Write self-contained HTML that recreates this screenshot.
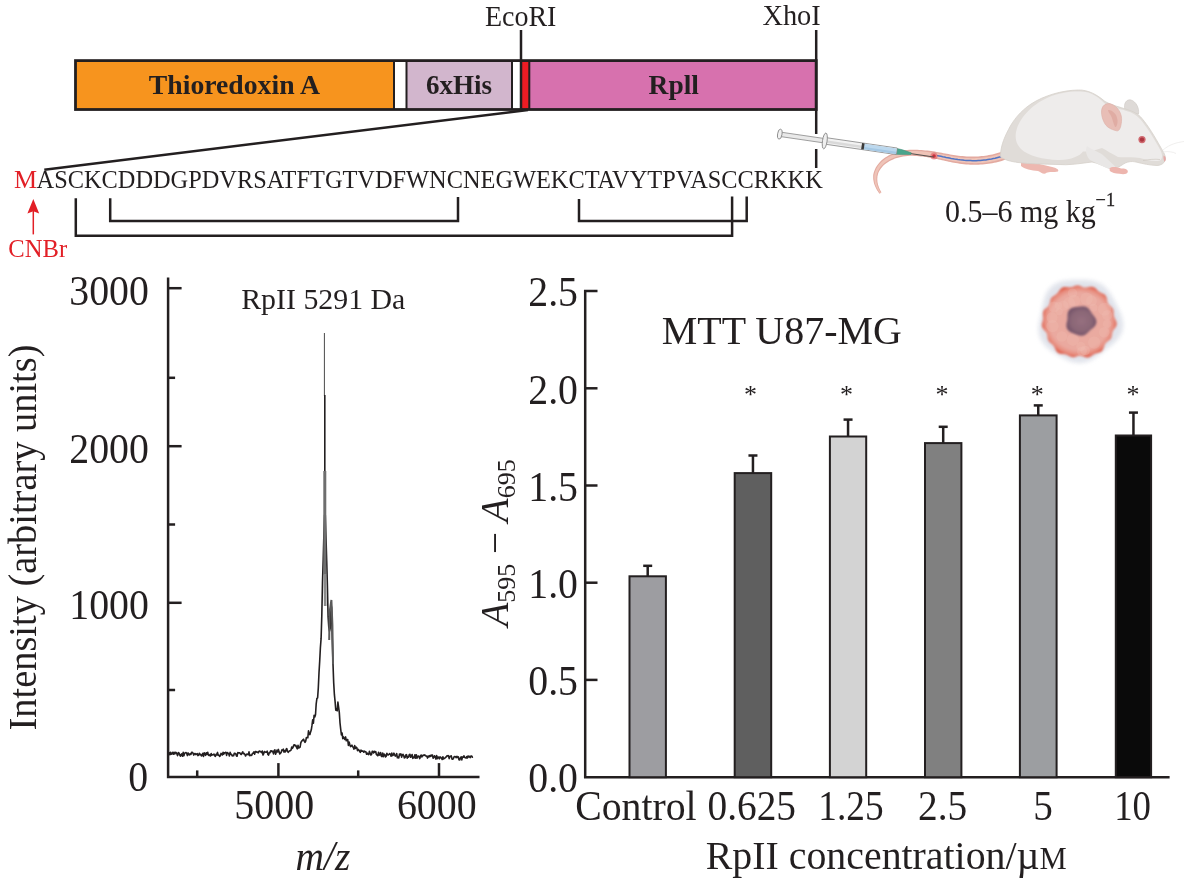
<!DOCTYPE html>
<html><head><meta charset="utf-8"><title>Figure</title>
<style>
html,body{margin:0;padding:0;background:#fff;}
body{width:1193px;height:886px;overflow:hidden;font-family:"Liberation Serif",serif;}
svg{display:block;will-change:transform;}
</style></head><body>
<svg width="1193" height="886" viewBox="0 0 1193 886">
<rect width="1193" height="886" fill="#ffffff"/>
<!--ART-->
<rect x="75.5" y="60.5" width="318.5" height="49" fill="#f7941e"/>
<rect x="406.5" y="60.5" width="105.5" height="49" fill="#d2b6cd"/>
<rect x="521" y="60.5" width="8.5" height="49" fill="#ed1c24"/>
<rect x="529" y="60.5" width="287" height="49" fill="#d771ae"/>
<g stroke="#231f20" stroke-width="2" fill="none">
<line x1="394" y1="60.5" x2="394" y2="109.5"/>
<line x1="406.5" y1="60.5" x2="406.5" y2="109.5"/>
<line x1="512" y1="60.5" x2="512" y2="109.5"/>
<line x1="529.3" y1="60.5" x2="529.3" y2="109.5"/>
</g>
<rect x="75.5" y="60.6" width="740.7" height="48.9" fill="none" stroke="#231f20" stroke-width="2.8"/>
<g stroke="#231f20" stroke-width="2.5" fill="none">
<line x1="521" y1="30" x2="521" y2="110"/>
<line x1="816.2" y1="30" x2="816.2" y2="134"/>
<line x1="816.2" y1="149" x2="816.2" y2="168"/>
<line x1="528" y1="110" x2="44.3" y2="169.7"/>
</g>
<text x="148.8" y="93.9" font-size="28.2" font-family="Liberation Serif" font-weight="bold" font-style="normal" fill="#231f20" textLength="171.2" lengthAdjust="spacingAndGlyphs">Thioredoxin A</text>
<text x="425.9" y="93.7" font-size="28.2" font-family="Liberation Serif" font-weight="bold" font-style="normal" fill="#231f20" textLength="66" lengthAdjust="spacingAndGlyphs">6xHis</text>
<text x="648.6" y="93.7" font-size="28.2" font-family="Liberation Serif" font-weight="bold" font-style="normal" fill="#231f20" textLength="50.4" lengthAdjust="spacingAndGlyphs">Rpll</text>
<text x="484.9" y="25.9" font-size="29.8" font-family="Liberation Serif" font-weight="normal" font-style="normal" fill="#231f20" textLength="71.5" lengthAdjust="spacingAndGlyphs">EcoRI</text>
<text x="762.4" y="24.9" font-size="29.8" font-family="Liberation Serif" font-weight="normal" font-style="normal" fill="#231f20" textLength="58.4" lengthAdjust="spacingAndGlyphs">XhoI</text>
<text x="13.9" y="187.5" font-size="24.8" font-family="Liberation Serif" font-weight="normal" font-style="normal" fill="#e21f26" textLength="23.1" lengthAdjust="spacingAndGlyphs">M</text>
<text x="36.6" y="187.5" font-size="24.6" font-family="Liberation Serif" font-weight="normal" font-style="normal" fill="#231f20" textLength="786.2" lengthAdjust="spacingAndGlyphs">ASCKCDDDGPDVRSATFTGTVDFWNCNEGWEKCTAVYTPVASCCRKKK</text>
<g stroke="#231f20" stroke-width="2.5" fill="none" stroke-linejoin="miter">
<polyline points="75.8,198.2 75.8,235.8 732.1,235.8 732.1,196.6"/>
<polyline points="110.2,198.2 110.2,221 458,221 458,197"/>
<polyline points="579,199 579,221 746.7,221 746.7,196.5"/>
</g>
<line x1="33.3" y1="234.4" x2="33.3" y2="208" stroke="#e21f26" stroke-width="1.5"/>
<path d="M33.3 198.9 L39.2 213.6 L33.3 211.2 L27.4 213.6 Z" fill="#e21f26"/>
<text x="8.3" y="257" font-size="24.2" font-family="Liberation Serif" font-weight="normal" font-style="normal" fill="#e21f26" textLength="58.8" lengthAdjust="spacingAndGlyphs">CNBr</text>
<g stroke="#231f20" stroke-width="2.5" fill="none">
<polyline points="168.1,277.4 168.1,777.1 479.5,777.1"/>
<line x1="168.1" y1="288.2" x2="181.6" y2="288.2"/>
<line x1="168.1" y1="377.8" x2="175.1" y2="377.8"/>
<line x1="168.1" y1="446.2" x2="181.6" y2="446.2"/>
<line x1="168.1" y1="524.5" x2="175.1" y2="524.5"/>
<line x1="168.1" y1="602.8" x2="181.6" y2="602.8"/>
<line x1="168.1" y1="690" x2="175.1" y2="690"/>
<line x1="197.2" y1="777.1" x2="197.2" y2="770.4"/>
<line x1="278.4" y1="777.1" x2="278.4" y2="763.1"/>
<line x1="358.2" y1="777.1" x2="358.2" y2="770.4"/>
<line x1="439" y1="777.1" x2="439" y2="763.1"/>
</g>
<text x="69.3" y="304.9" font-size="42.5" font-family="Liberation Serif" font-weight="normal" font-style="normal" fill="#231f20" textLength="79.6" lengthAdjust="spacingAndGlyphs">3000</text>
<text x="69.3" y="462.9" font-size="42.5" font-family="Liberation Serif" font-weight="normal" font-style="normal" fill="#231f20" textLength="79.6" lengthAdjust="spacingAndGlyphs">2000</text>
<text x="69.3" y="619.4" font-size="42.5" font-family="Liberation Serif" font-weight="normal" font-style="normal" fill="#231f20" textLength="79.6" lengthAdjust="spacingAndGlyphs">1000</text>
<text x="128.2" y="791" font-size="42.5" font-family="Liberation Serif" font-weight="normal" font-style="normal" fill="#231f20" textLength="19.9" lengthAdjust="spacingAndGlyphs">0</text>
<text x="234.3" y="819.2" font-size="42.5" font-family="Liberation Serif" font-weight="normal" font-style="normal" fill="#231f20" textLength="79.8" lengthAdjust="spacingAndGlyphs">5000</text>
<text x="396.9" y="819.2" font-size="42.5" font-family="Liberation Serif" font-weight="normal" font-style="normal" fill="#231f20" textLength="79.8" lengthAdjust="spacingAndGlyphs">6000</text>
<text x="295.6" y="869.6" font-size="42" font-family="Liberation Serif" font-weight="normal" font-style="italic" fill="#231f20" textLength="54.7" lengthAdjust="spacingAndGlyphs">m/z</text>
<text x="241.2" y="308.9" font-size="30.1" font-family="Liberation Serif" font-weight="normal" font-style="normal" fill="#231f20" textLength="164.2" lengthAdjust="spacingAndGlyphs">RpII 5291 Da</text>
<text transform="translate(36.4,730.5) rotate(-90)" font-size="40.5" font-family="Liberation Serif" fill="#231f20" textLength="386" lengthAdjust="spacingAndGlyphs">Intensity (arbitrary units)</text>
<path d="M168.5 753.4 L169.2 752.7 L169.9 754.8 L170.6 752.3 L171.3 754.3 L172.0 753.6 L172.7 752.3 L173.4 754.2 L174.1 752.2 L174.8 753.9 L175.5 752.4 L176.2 752.5 L176.9 753.9 L177.6 755.6 L178.3 752.6 L179.0 753.0 L179.7 754.8 L180.4 756.2 L181.1 754.6 L181.8 753.8 L182.5 756.3 L183.2 752.3 L183.9 755.8 L184.6 753.4 L185.3 752.7 L186.0 752.6 L186.7 753.5 L187.4 755.6 L188.1 752.9 L188.8 754.6 L189.5 754.9 L190.2 753.7 L190.9 754.5 L191.6 752.4 L192.3 752.4 L193.0 753.0 L193.7 755.1 L194.4 754.0 L195.1 753.5 L195.8 754.7 L196.5 754.1 L197.2 753.5 L197.9 755.6 L198.6 755.2 L199.3 753.2 L200.0 754.6 L200.7 754.4 L201.4 755.9 L202.1 755.3 L202.8 753.4 L203.5 756.4 L204.2 752.7 L204.9 754.0 L205.6 755.4 L206.3 752.8 L207.0 754.3 L207.7 752.3 L208.4 755.1 L209.1 755.5 L209.8 754.7 L210.5 756.0 L211.2 753.5 L211.9 755.2 L212.6 754.7 L213.3 754.7 L214.0 754.1 L214.7 755.8 L215.4 756.3 L216.1 754.2 L216.8 755.0 L217.5 752.4 L218.2 755.2 L218.9 755.0 L219.6 756.5 L220.3 755.7 L221.0 753.4 L221.7 753.8 L222.4 755.0 L223.1 752.2 L223.8 754.1 L224.5 752.8 L225.2 752.6 L225.9 752.3 L226.6 755.4 L227.3 752.6 L228.0 753.1 L228.7 753.8 L229.4 755.9 L230.1 752.4 L230.8 754.0 L231.5 754.4 L232.2 755.9 L232.9 755.6 L233.6 755.8 L234.3 753.2 L235.0 753.8 L235.7 753.5 L236.4 755.9 L237.1 756.2 L237.8 752.6 L238.5 752.7 L239.2 752.9 L239.9 752.9 L240.6 754.0 L241.3 754.5 L242.0 753.0 L242.7 751.8 L243.4 753.7 L244.1 753.4 L244.8 754.3 L245.5 756.0 L246.2 754.8 L246.9 754.0 L247.6 754.4 L248.3 754.7 L249.0 751.9 L249.7 755.6 L250.4 755.1 L251.1 755.5 L251.8 755.1 L252.5 753.3 L253.2 753.3 L253.9 751.9 L254.6 754.3 L255.3 751.6 L256.0 751.6 L256.7 752.2 L257.4 752.0 L258.1 752.8 L258.8 751.4 L259.5 751.1 L260.2 751.8 L260.9 751.5 L261.6 752.7 L262.3 751.1 L263.0 755.0 L263.7 753.7 L264.4 751.5 L265.1 751.9 L265.8 752.3 L266.5 752.3 L267.2 751.2 L267.9 754.5 L268.6 755.1 L269.3 752.6 L270.0 752.6 L270.7 750.7 L271.4 750.7 L272.1 751.7 L272.8 751.3 L273.5 753.9 L274.2 750.6 L274.9 749.9 L275.6 754.3 L276.3 752.1 L277.0 750.2 L277.7 752.0 L278.4 749.4 L279.1 751.7 L279.8 753.9 L280.5 753.2 L281.2 752.2 L281.9 749.9 L282.6 750.3 L283.3 749.2 L284.0 752.1 L284.7 750.7 L285.4 751.8 L286.1 749.4 L286.8 748.6 L287.5 751.5 L288.2 752.3 L288.9 751.4 L289.6 750.9 L290.3 750.8 L291.0 750.1 L291.7 747.1 L292.4 748.4 L293.1 747.2 L293.8 745.1 L294.5 744.8 L295.2 745.9 L295.9 745.4 L296.6 747.6 L297.3 748.8 L298.0 745.3 L298.7 747.9 L299.4 747.7 L300.1 747.1 L300.8 742.9 L301.5 741.3 L302.2 740.7 L302.9 739.9 L303.6 739.2 L304.3 741.3 L305.0 742.4 L305.7 741.1 L306.4 737.5 L307.1 737.8 L307.8 737.8 L308.5 730.9 L309.2 734.1 L309.9 734.6 L310.6 731.9 L311.3 729.8 L312.0 725.2 L312.7 719.8 L313.4 723.2 L314.1 715.3 L314.8 716.9 L315.5 714.7 L316.2 703.8 L316.9 698.4 L317.6 698.0 L318.3 688.0 L319.0 672.8 L319.7 661.1 L320.4 647.5 L321.1 638.4 L321.8 615.7 L322.5 582.0 L323.2 559.8 L323.9 534.1 L324.6 515.0 L325.3 515.3 L326.0 537.9 L326.7 560.8 L327.4 585.7 L328.1 616.9 L328.8 627.2 L329.5 631.0 L330.2 628.4 L330.9 603.9 L331.6 607.6 L332.3 640.5 L333.0 664.0 L333.7 682.9 L334.4 694.7 L335.1 701.6 L335.8 710.3 L336.5 709.4 L337.2 710.8 L337.9 702.0 L338.6 707.1 L339.3 712.4 L340.0 722.8 L340.7 729.1 L341.4 734.9 L342.1 733.1 L342.8 738.7 L343.5 736.9 L344.2 738.4 L344.9 739.5 L345.6 736.9 L346.3 740.8 L347.0 739.9 L347.7 739.5 L348.4 745.4 L349.1 742.0 L349.8 744.5 L350.5 746.6 L351.2 746.1 L351.9 745.1 L352.6 746.7 L353.3 747.4 L354.0 749.1 L354.7 745.6 L355.4 748.5 L356.1 747.1 L356.8 747.6 L357.5 750.6 L358.2 749.4 L358.9 750.0 L359.6 751.3 L360.3 752.4 L361.0 750.1 L361.7 751.2 L362.4 750.9 L363.1 751.1 L363.8 752.2 L364.5 751.2 L365.2 751.8 L365.9 751.7 L366.6 754.2 L367.3 753.1 L368.0 754.1 L368.7 754.6 L369.4 751.3 L370.1 753.0 L370.8 755.0 L371.5 754.6 L372.2 751.3 L372.9 751.3 L373.6 753.0 L374.3 751.3 L375.0 752.2 L375.7 751.5 L376.4 754.5 L377.1 755.1 L377.8 755.8 L378.5 752.3 L379.2 755.1 L379.9 754.9 L380.6 752.5 L381.3 756.1 L382.0 756.6 L382.7 753.1 L383.4 756.6 L384.1 754.1 L384.8 754.6 L385.5 757.0 L386.2 756.3 L386.9 753.3 L387.6 754.6 L388.3 755.0 L389.0 754.3 L389.7 753.7 L390.4 754.3 L391.1 756.2 L391.8 753.1 L392.5 755.6 L393.2 755.1 L393.9 753.2 L394.6 754.7 L395.3 756.1 L396.0 755.6 L396.7 753.6 L397.4 757.8 L398.1 757.0 L398.8 757.9 L399.5 754.0 L400.2 754.8 L400.9 753.8 L401.6 757.2 L402.3 754.9 L403.0 754.3 L403.7 755.7 L404.4 757.9 L405.1 757.5 L405.8 755.0 L406.5 754.6 L407.2 758.1 L407.9 756.5 L408.6 757.1 L409.3 754.5 L410.0 754.4 L410.7 757.2 L411.4 756.1 L412.1 754.5 L412.8 758.4 L413.5 757.1 L414.2 757.8 L414.9 754.7 L415.6 758.1 L416.3 754.7 L417.0 758.2 L417.7 756.4 L418.4 756.0 L419.1 756.9 L419.8 758.6 L420.5 755.7 L421.2 755.1 L421.9 756.9 L422.6 755.7 L423.3 755.1 L424.0 755.4 L424.7 754.9 L425.4 755.6 L426.1 756.1 L426.8 756.1 L427.5 758.1 L428.2 756.1 L428.9 757.0 L429.6 755.6 L430.3 756.4 L431.0 755.0 L431.7 756.0 L432.4 755.0 L433.1 758.2 L433.8 757.4 L434.5 755.8 L435.2 757.1 L435.9 759.1 L436.6 755.5 L437.3 758.7 L438.0 757.0 L438.7 757.3 L439.4 758.8 L440.1 756.9 L440.8 757.4 L441.5 758.2 L442.2 759.5 L442.9 756.7 L443.6 758.9 L444.3 758.4 L445.0 758.1 L445.7 757.1 L446.4 756.9 L447.1 755.6 L447.8 756.0 L448.5 755.7 L449.2 758.6 L449.9 756.5 L450.6 756.2 L451.3 755.8 L452.0 759.1 L452.7 759.3 L453.4 758.4 L454.1 756.8 L454.8 756.6 L455.5 756.8 L456.2 757.6 L456.9 756.3 L457.6 757.5 L458.3 756.8 L459.0 759.8 L459.7 759.9 L460.4 758.0 L461.1 756.8 L461.8 759.9 L462.5 757.1 L463.2 757.3 L463.9 755.8 L464.6 757.4 L465.3 757.8 L466.0 758.0 L466.7 756.7 L467.4 758.0 L468.1 755.9 L468.8 757.0 L469.5 756.3 L470.2 757.6 L470.9 756.1 L471.6 756.0 L472.3 757.2 L473.0 757.0" fill="none" stroke="#231f20" stroke-width="1.6" stroke-linejoin="round"/>
<line x1="324.4" y1="333" x2="324.4" y2="396" stroke="#4a4a4a" stroke-width="1"/>
<line x1="324.8" y1="395" x2="324.8" y2="472" stroke="#231f20" stroke-width="1.6"/>
<line x1="324.8" y1="471" x2="324.8" y2="575" stroke="#6e6e6e" stroke-width="3"/>
<line x1="324.9" y1="574" x2="325.2" y2="606" stroke="#8a8a8a" stroke-width="2.6"/>
<path d="M329.2 640 L329.6 612 L331.4 600 L332.4 625 L333 664" fill="none" stroke="#5a5a5a" stroke-width="2"/>
<g stroke="#231f20" stroke-width="2.5" fill="none">
<polyline points="597.5,291.1 585.2,291.1 585.2,777.2 1169.6,777.2"/>
<line x1="585.2" y1="388.3" x2="597.5" y2="388.3"/>
<line x1="585.2" y1="485.5" x2="597.5" y2="485.5"/>
<line x1="585.2" y1="582.7" x2="597.5" y2="582.7"/>
<line x1="585.2" y1="679.9" x2="597.5" y2="679.9"/>
</g>
<line x1="647.7" y1="576.3" x2="647.7" y2="565.8" stroke="#231f20" stroke-width="2.5"/>
<line x1="643.2" y1="565.8" x2="652.2" y2="565.8" stroke="#231f20" stroke-width="2.5"/>
<rect x="629.5" y="576.3" width="36.39999999999998" height="200.9000000000001" fill="#9d9da1" stroke="#231f20" stroke-width="2"/>
<line x1="752.95" y1="473.1" x2="752.95" y2="455.5" stroke="#231f20" stroke-width="2.5"/>
<line x1="748.45" y1="455.5" x2="757.45" y2="455.5" stroke="#231f20" stroke-width="2.5"/>
<rect x="734.7" y="473.1" width="36.5" height="304.1" fill="#5f5f5f" stroke="#231f20" stroke-width="2"/>
<line x1="848.05" y1="436.5" x2="848.05" y2="419.6" stroke="#231f20" stroke-width="2.5"/>
<line x1="843.55" y1="419.6" x2="852.55" y2="419.6" stroke="#231f20" stroke-width="2.5"/>
<rect x="829.9" y="436.5" width="36.30000000000007" height="340.70000000000005" fill="#d3d3d3" stroke="#231f20" stroke-width="2"/>
<line x1="943.2" y1="443.1" x2="943.2" y2="426.8" stroke="#231f20" stroke-width="2.5"/>
<line x1="938.7" y1="426.8" x2="947.7" y2="426.8" stroke="#231f20" stroke-width="2.5"/>
<rect x="925" y="443.1" width="36.39999999999998" height="334.1" fill="#808080" stroke="#231f20" stroke-width="2"/>
<line x1="1038.25" y1="415.4" x2="1038.25" y2="405.4" stroke="#231f20" stroke-width="2.5"/>
<line x1="1033.75" y1="405.4" x2="1042.75" y2="405.4" stroke="#231f20" stroke-width="2.5"/>
<rect x="1019.9" y="415.4" width="36.69999999999993" height="361.80000000000007" fill="#9c9ea1" stroke="#231f20" stroke-width="2"/>
<line x1="1133.4499999999998" y1="435.5" x2="1133.4499999999998" y2="412.6" stroke="#231f20" stroke-width="2.5"/>
<line x1="1128.9499999999998" y1="412.6" x2="1137.9499999999998" y2="412.6" stroke="#231f20" stroke-width="2.5"/>
<rect x="1115.8" y="435.5" width="35.299999999999955" height="341.70000000000005" fill="#0a0a0a" stroke="#231f20" stroke-width="2"/>
<text x="750.6" y="403" font-size="26" font-family="Liberation Serif" fill="#231f20" text-anchor="middle">*</text>
<text x="846.5" y="403" font-size="26" font-family="Liberation Serif" fill="#231f20" text-anchor="middle">*</text>
<text x="942" y="403" font-size="26" font-family="Liberation Serif" fill="#231f20" text-anchor="middle">*</text>
<text x="1037.2" y="403" font-size="26" font-family="Liberation Serif" fill="#231f20" text-anchor="middle">*</text>
<text x="1133.1" y="403" font-size="26" font-family="Liberation Serif" fill="#231f20" text-anchor="middle">*</text>
<text x="528.3" y="306.4" font-size="42.5" font-family="Liberation Serif" font-weight="normal" font-style="normal" fill="#231f20" textLength="49.7" lengthAdjust="spacingAndGlyphs">2.5</text>
<text x="528.3" y="403.59999999999997" font-size="42.5" font-family="Liberation Serif" font-weight="normal" font-style="normal" fill="#231f20" textLength="49.7" lengthAdjust="spacingAndGlyphs">2.0</text>
<text x="528.3" y="500.8" font-size="42.5" font-family="Liberation Serif" font-weight="normal" font-style="normal" fill="#231f20" textLength="49.7" lengthAdjust="spacingAndGlyphs">1.5</text>
<text x="528.3" y="598.0" font-size="42.5" font-family="Liberation Serif" font-weight="normal" font-style="normal" fill="#231f20" textLength="49.7" lengthAdjust="spacingAndGlyphs">1.0</text>
<text x="528.3" y="695.2" font-size="42.5" font-family="Liberation Serif" font-weight="normal" font-style="normal" fill="#231f20" textLength="49.7" lengthAdjust="spacingAndGlyphs">0.5</text>
<text x="528.3" y="791.9000000000001" font-size="42.5" font-family="Liberation Serif" font-weight="normal" font-style="normal" fill="#231f20" textLength="49.7" lengthAdjust="spacingAndGlyphs">0.0</text>
<text x="575.2" y="819.5" font-size="42" font-family="Liberation Serif" font-weight="normal" font-style="normal" fill="#231f20" textLength="121.4" lengthAdjust="spacingAndGlyphs">Control</text>
<text x="707.5" y="819.5" font-size="42.5" font-family="Liberation Serif" font-weight="normal" font-style="normal" fill="#231f20" textLength="88.5" lengthAdjust="spacingAndGlyphs">0.625</text>
<text x="818.3" y="819.5" font-size="42.5" font-family="Liberation Serif" font-weight="normal" font-style="normal" fill="#231f20" textLength="65.3" lengthAdjust="spacingAndGlyphs">1.25</text>
<text x="918" y="819.5" font-size="42.5" font-family="Liberation Serif" font-weight="normal" font-style="normal" fill="#231f20" textLength="49.2" lengthAdjust="spacingAndGlyphs">2.5</text>
<text x="1033.2" y="819.5" font-size="42.5" font-family="Liberation Serif" font-weight="normal" font-style="normal" fill="#231f20" textLength="19.6" lengthAdjust="spacingAndGlyphs">5</text>
<text x="1114.2" y="819.5" font-size="42.5" font-family="Liberation Serif" font-weight="normal" font-style="normal" fill="#231f20" textLength="36.8" lengthAdjust="spacingAndGlyphs">10</text>
<text x="705.8" y="869.2" font-size="40.3" font-family="Liberation Serif" fill="#231f20" textLength="361" lengthAdjust="spacingAndGlyphs">RpII concentration/µ<tspan font-size="31">M</tspan></text>
<text x="661.8" y="343.6" font-size="40.6" font-family="Liberation Serif" font-weight="normal" font-style="normal" fill="#231f20" textLength="240" lengthAdjust="spacingAndGlyphs">MTT U87-MG</text>
<text transform="translate(507.5,626.5) rotate(-90)" font-size="39" font-family="Liberation Serif" fill="#231f20"><tspan font-style="italic">A</tspan><tspan font-size="26" dy="7">595</tspan><tspan dy="-7"> − </tspan><tspan font-style="italic">A</tspan><tspan font-size="26" dy="7">695</tspan></text>
<g id="tail">
<path d="M1002.6 151.3 L1000.9 151.9 L999.2 152.5 L997.5 153.0 L995.8 153.5 L994.1 154.0 L992.4 154.4 L990.6 154.8 L988.9 155.1 L987.1 155.4 L985.3 155.7 L983.6 155.9 L981.7 156.1 L979.9 156.3 L978.1 156.4 L976.2 156.5 L974.3 156.6 L972.4 156.6 L970.5 156.6 L968.6 156.5 L966.6 156.4 L964.6 156.3 L962.6 156.1 L960.6 155.9 L958.5 155.7 L956.9 155.4 L955.2 155.2 L953.5 154.9 L951.8 154.7 L950.2 154.4 L948.5 154.1 L946.8 153.8 L945.1 153.5 L943.4 153.2 L941.7 152.8 L940.0 152.5 L938.3 152.2 L936.5 151.9 L934.8 151.6 L933.0 151.3 L931.1 151.1 L929.3 150.8 L927.4 150.6 L925.4 150.4 L923.5 150.2 L921.4 150.0 L919.4 149.9 L917.3 149.8 L915.1 149.7 L912.4 149.7 L909.7 149.8 L907.1 150.0 L904.6 150.3 L902.1 150.8 L899.7 151.3 L897.3 151.9 L895.1 152.6 L892.9 153.5 L890.9 154.4 L888.9 155.3 L887.0 156.4 L885.2 157.6 L883.5 158.8 L881.9 160.1 L880.4 161.5 L879.1 162.9 L877.9 164.4 L876.8 166.0 L875.8 167.6 L875.0 169.3 L874.3 171.0 L873.7 172.8 L873.3 174.6 L873.2 175.6 L873.2 176.6 L873.2 177.5 L873.2 178.4 L873.3 179.4 L873.4 180.2 L873.6 181.1 L873.7 182.0 L873.9 182.8 L874.1 183.6 L874.4 184.5 L874.7 185.3 L875.0 186.0 L875.3 186.8 L875.7 187.6 L876.0 188.3 L876.4 189.0 L876.8 189.7 L877.2 190.4 L877.7 191.1 L878.1 191.8 L878.6 192.4 L879.0 193.1 L879.5 193.7 L881.5 192.3 L881.1 191.7 L880.7 191.0 L880.4 190.4 L880.0 189.7 L879.7 189.1 L879.4 188.4 L879.1 187.7 L878.8 187.0 L878.6 186.3 L878.3 185.6 L878.1 184.9 L877.9 184.2 L877.8 183.5 L877.6 182.8 L877.5 182.1 L877.4 181.4 L877.4 180.6 L877.3 179.9 L877.3 179.1 L877.3 178.4 L877.4 177.6 L877.4 176.9 L877.5 176.1 L877.7 175.4 L878.0 174.0 L878.5 172.6 L879.1 171.3 L879.9 170.0 L880.7 168.7 L881.7 167.4 L882.7 166.2 L883.9 165.1 L885.2 164.0 L886.6 163.0 L888.1 162.0 L889.6 161.0 L891.3 160.2 L893.1 159.4 L894.9 158.6 L896.9 158.0 L898.9 157.4 L901.0 156.9 L903.1 156.5 L905.4 156.2 L907.6 156.0 L910.0 155.8 L912.4 155.8 L914.9 155.9 L916.9 156.0 L918.9 156.2 L920.9 156.4 L922.8 156.6 L924.6 156.9 L926.5 157.1 L928.3 157.4 L930.1 157.7 L931.8 158.1 L933.5 158.4 L935.3 158.7 L937.0 159.1 L938.6 159.5 L940.3 159.8 L942.0 160.2 L943.7 160.6 L945.4 161.0 L947.0 161.3 L948.7 161.7 L950.4 162.0 L952.2 162.4 L953.9 162.7 L955.7 163.0 L957.5 163.3 L959.6 163.7 L961.8 163.9 L963.9 164.2 L966.1 164.4 L968.2 164.6 L970.3 164.7 L972.3 164.7 L974.4 164.8 L976.4 164.8 L978.5 164.7 L980.5 164.6 L982.5 164.5 L984.5 164.3 L986.5 164.1 L988.4 163.8 L990.4 163.5 L992.3 163.2 L994.2 162.8 L996.1 162.4 L998.0 161.9 L999.9 161.4 L1001.8 160.9 L1003.6 160.3 L1005.4 159.7Z" fill="#e3aaa0"/>
<path d="M1003.1 152.9 L1001.4 153.6 L999.7 154.1 L998.0 154.6 L996.2 155.1 L994.5 155.6 L992.7 156.0 L991.0 156.4 L989.2 156.7 L987.4 157.1 L985.6 157.3 L983.7 157.6 L981.9 157.8 L980.0 157.9 L978.2 158.1 L976.3 158.1 L974.4 158.2 L972.4 158.2 L970.5 158.2 L968.5 158.1 L966.5 158.0 L964.5 157.9 L962.5 157.7 L960.4 157.5 L958.3 157.2 L956.6 157.0 L954.9 156.7 L953.2 156.4 L951.5 156.1 L949.9 155.8 L948.2 155.5 L946.5 155.2 L944.8 154.9 L943.2 154.6 L941.5 154.3 L939.7 153.9 L938.0 153.6 L936.3 153.3 L934.5 153.0 L932.7 152.7 L930.9 152.4 L929.1 152.2 L927.2 151.9 L925.3 151.7 L923.3 151.5 L921.3 151.3 L919.3 151.2 L917.2 151.1 L915.1 151.0 L912.4 151.0 L909.8 151.1 L907.2 151.3 L904.7 151.6 L902.3 152.0 L900.0 152.5 L897.7 153.1 L895.5 153.8 L893.4 154.6 L891.3 155.4 L889.4 156.4 L887.6 157.4 L885.8 158.5 L884.2 159.7 L882.6 161.0 L881.2 162.3 L879.9 163.7 L878.7 165.1 L877.7 166.6 L876.7 168.1 L875.9 169.7 L875.2 171.4 L874.7 173.1 L874.3 174.8 L874.2 175.8 L874.2 176.7 L874.2 177.6 L874.2 178.4 L874.3 179.3 L874.4 180.2 L874.5 181.0 L874.6 181.8 L874.8 182.6 L875.0 183.4 L875.2 184.2 L875.5 185.0 L875.8 185.8 L876.1 186.5 L876.4 187.2 L876.8 188.0 L877.1 188.7 L877.5 189.4 L877.9 190.1 L878.3 190.7 L878.7 191.4 L879.2 192.0 L879.6 192.7 L880.1 193.3 L880.9 192.7 L880.5 192.1 L880.1 191.4 L879.7 190.8 L879.4 190.1 L879.0 189.4 L878.7 188.8 L878.4 188.1 L878.1 187.4 L877.8 186.7 L877.6 185.9 L877.3 185.2 L877.1 184.5 L876.9 183.8 L876.8 183.0 L876.6 182.3 L876.5 181.5 L876.4 180.7 L876.4 180.0 L876.4 179.2 L876.4 178.4 L876.4 177.6 L876.5 176.8 L876.5 176.0 L876.7 175.2 L877.0 173.7 L877.6 172.3 L878.2 170.8 L879.0 169.4 L879.8 168.1 L880.8 166.8 L881.9 165.5 L883.2 164.3 L884.5 163.1 L885.9 162.0 L887.4 161.0 L889.1 160.0 L890.8 159.1 L892.6 158.3 L894.5 157.5 L896.5 156.8 L898.6 156.2 L900.7 155.7 L902.9 155.3 L905.2 155.0 L907.5 154.7 L909.9 154.6 L912.4 154.5 L914.9 154.6 L917.0 154.7 L919.0 154.9 L921.0 155.1 L922.9 155.3 L924.8 155.5 L926.7 155.8 L928.5 156.1 L930.3 156.4 L932.0 156.7 L933.8 157.0 L935.5 157.4 L937.2 157.7 L938.9 158.1 L940.6 158.4 L942.3 158.8 L944.0 159.2 L945.7 159.5 L947.3 159.9 L949.0 160.2 L950.7 160.6 L952.4 160.9 L954.2 161.2 L955.9 161.5 L957.7 161.8 L959.8 162.1 L961.9 162.4 L964.1 162.6 L966.2 162.8 L968.2 163.0 L970.3 163.1 L972.4 163.1 L974.4 163.2 L976.4 163.2 L978.4 163.1 L980.4 163.0 L982.4 162.9 L984.3 162.7 L986.2 162.5 L988.2 162.2 L990.1 161.9 L992.0 161.5 L993.9 161.2 L995.7 160.7 L997.6 160.3 L999.4 159.8 L1001.3 159.2 L1003.1 158.7 L1004.9 158.1Z" fill="#efc4b8"/>
<path d="M1004.0 155.5 L1002.2 156.1 L1000.5 156.7 L998.7 157.2 L996.9 157.7 L995.1 158.2 L993.3 158.6 L991.5 159.0 L989.6 159.3 L987.8 159.6 L985.9 159.9 L984.0 160.1 L982.1 160.3 L980.2 160.5 L978.3 160.6 L976.3 160.7 L974.4 160.7 L972.4 160.7 L970.4 160.6 L968.4 160.5 L966.3 160.4 L964.3 160.3 L962.2 160.0 L960.1 159.8 L958.0 159.5 L956.3 159.2 L954.5 159.0 L952.8 158.7 L951.1 158.4 L949.4 158.0 L947.8 157.7 L946.1 157.4 L944.4 157.0 L942.7 156.7 L941.0 156.3 L939.3 156.0 L937.6 155.7" fill="none" stroke="#4f74c4" stroke-width="1.5" stroke-linecap="round"/>
<circle cx="934" cy="156" r="3.6" fill="#e0525a" opacity="0.55"/><circle cx="934" cy="156" r="1.8" fill="#c8313d"/>
</g>
<g id="syringe" transform="translate(779.5,134.1) rotate(8.3)">
<line x1="132" y1="0.3" x2="156" y2="0.3" stroke="#55514f" stroke-width="1"/>
<path d="M118.3 -2.8 L124 -2.2 L133 -0.6 L133 1.2 L124 2.6 L118.3 3.2 Z" fill="#4aa58c" stroke="#3b8a75" stroke-width="0.5"/>
<rect x="2" y="-2.1" width="44" height="4.4" fill="#e9e9e9" stroke="#8f8f8f" stroke-width="0.8"/>
<rect x="47" y="-3.2" width="71.5" height="6.6" fill="#f2f2f2" stroke="#8a8a8a" stroke-width="0.8"/>
<rect x="47" y="-0.6" width="37" height="2.6" fill="#d9d9d9"/>
<rect x="85.5" y="-2.7" width="32.6" height="5.6" fill="#bcd8ee"/>
<rect x="85.5" y="0.6" width="32.6" height="2.3" fill="#a5c8e4"/>
<rect x="83" y="-3" width="2.6" height="6.2" fill="#3a3a3a"/>
<ellipse cx="45.8" cy="0.2" rx="2.3" ry="8" fill="#efefef" stroke="#8a8a8a" stroke-width="0.9"/>
<ellipse cx="0.3" cy="0" rx="2.2" ry="5" fill="#f1f1f1" stroke="#8a8a8a" stroke-width="0.9"/>
</g>
<g id="mouse">
<path d="M1125 110 C1123 103 1127 98.8 1131 100 C1136 101.5 1139.5 108 1138.5 114 C1134 114 1129 113 1125 110Z" fill="#dedad7" stroke="#cfc9c4" stroke-width="0.6"/>
<path d="M1021 162.5 C1027 160.5 1040 164 1050 166.5 C1056 167.5 1059.5 169.5 1058 171.5 C1054 172.5 1049 171.5 1046.5 172.8 C1044 175 1041 172.5 1038 171 C1032 170.5 1024 169 1021 166Z" fill="#edb8b0"/>
<path d="M1000.5 156.5 C1000.5 148 1003 140 1008.5 129.5 C1013 120.5 1020 111.5 1031 104 C1044 95.5 1062 90.3 1078.5 90 C1088 89.8 1097 94.5 1105 101.5 C1112 105.5 1120 107 1127 109.5 C1133 111.5 1138 113.5 1142 118.5 C1148 125.5 1155 137 1160.5 147 C1163.5 152 1166.3 156.5 1165.3 160 C1164.5 163 1161 165.5 1157 165.5 C1150 165.3 1143 163.8 1136 162 C1131 161 1127 161.5 1122 165 C1118 167.5 1114 169.5 1110 168.5 C1104 166.5 1098 163 1092 162 C1080 163.5 1068 165.5 1058 164.5 C1044 164 1030 164 1018 162.5 C1011 161.5 1004 160 1000.5 156.5Z" fill="#e0dcd8" stroke="#d6d0ca" stroke-width="0.8"/>
<path d="M1016 132 C1019 118 1032 104.5 1048 97.5 C1062 91.5 1078 90.5 1088 92.5 C1096 95 1103 101 1107 106 C1113 108 1122 109 1128 111.5 C1135 113.5 1140 118 1144 124 C1150 132 1156 142 1160 149.5 C1162.5 154 1163 158 1160 160.5 C1154 162 1146 160 1140 158 C1132 156.5 1124 158 1118 157 C1112 154 1106 150 1102 148 C1096 150 1090 152 1083 151.5 C1080 156 1070 160.5 1058 160 C1044 159.5 1028 156 1021 149 C1016 144 1015 138 1016 132Z" fill="#eeeceb"/>
<path d="M1087 146 C1092 150 1100 152 1104 156 C1108 160 1113 164 1116 167.5 L1109 169 C1103 166.5 1096 163 1090 160 C1086 156 1085 150 1087 146Z" fill="#e9e7e6"/>
<path d="M1109.5 168.3 C1112 166.3 1117 167 1121 168.5 C1125 168 1128.3 169.5 1127.8 172 C1127 174.5 1123 174.5 1119.5 173.8 C1115.5 173.3 1111.5 172.8 1109.8 171Z" fill="#edb5ae"/>
<path d="M1101.5 112 C1101.5 105.5 1106 102.5 1111 104 C1118 106.5 1122.5 114 1121.5 121.5 C1121 127 1119.5 131.5 1116.5 130.8 C1111 129.5 1106 127 1104 122 C1102.5 119 1101.5 115.5 1101.5 112Z" fill="#e8beb6" stroke="#dcaea6" stroke-width="0.6"/>
<path d="M1108 110 C1112 109.5 1117 114 1117.5 120 C1117.8 124 1116.5 127.5 1115 127 C1113 123 1112.5 118 1110.5 115 C1109.5 113 1108 112 1108 110Z" fill="#dda79f" opacity="0.8"/>
<circle cx="1142" cy="139.6" r="3.6" fill="#cf6a70"/><circle cx="1142" cy="139.6" r="2.2" fill="#ad3640"/>
<path d="M1163.6 155.5 C1166.2 156.5 1166.5 160 1164.5 161.8 C1163.5 160 1163.2 157.5 1163.6 155.5Z" fill="#e6aaa8"/>
<path d="M1143 160.5 C1149 159.5 1155 158.8 1160 159.5" fill="none" stroke="#cfc8c2" stroke-width="0.7"/>
<path d="M1163 150 C1170 144 1177 142.5 1184 141.5 M1163 152 C1169 151 1173 152 1176 153.5" fill="none" stroke="#ecebea" stroke-width="0.8"/>
</g>
<defs><filter id="bl" x="-20%" y="-20%" width="140%" height="140%"><feGaussianBlur stdDeviation="2.2"/></filter><filter id="bs" x="-20%" y="-20%" width="140%" height="140%"><feGaussianBlur stdDeviation="0.8"/></filter><radialGradient id="tg" cx="50%" cy="50%" r="50%"><stop offset="0" stop-color="#e9aba2"/><stop offset="0.8" stop-color="#eaa99f"/><stop offset="0.93" stop-color="#e78b7c"/><stop offset="1" stop-color="#e0614e"/></radialGradient><radialGradient id="ng" cx="50%" cy="50%" r="50%"><stop offset="0" stop-color="#96707f"/><stop offset="0.7" stop-color="#8a6676"/><stop offset="1" stop-color="#75546a"/></radialGradient></defs>
<g id="tumor">
<path d="M1122.6 320.3 L1122.8 321.8 L1123.0 323.3 L1123.0 324.9 L1123.0 326.4 L1122.8 327.9 L1122.6 329.5 L1122.2 330.9 L1121.7 332.4 L1121.1 333.8 L1120.4 335.2 L1119.7 336.5 L1118.8 337.8 L1117.9 339.0 L1116.9 340.2 L1115.8 341.3 L1114.8 342.3 L1113.7 343.3 L1112.5 344.3 L1111.4 345.2 L1110.3 346.1 L1109.1 347.0 L1108.0 347.8 L1106.9 348.7 L1105.8 349.5 L1104.7 350.3 L1103.6 351.2 L1102.5 352.0 L1101.5 352.9 L1100.4 353.7 L1099.3 354.6 L1098.2 355.4 L1097.0 356.3 L1095.9 357.1 L1094.7 357.9 L1093.5 358.7 L1092.2 359.5 L1090.9 360.2 L1089.6 360.8 L1088.2 361.4 L1086.8 361.9 L1085.4 362.3 L1083.9 362.6 L1082.5 362.8 L1081.0 363.0 L1079.5 363.0 L1078.0 363.0 L1076.5 362.8 L1075.1 362.6 L1073.6 362.3 L1072.2 361.9 L1070.8 361.4 L1069.4 360.9 L1068.0 360.4 L1066.7 359.8 L1065.4 359.1 L1064.1 358.5 L1062.8 357.8 L1061.5 357.1 L1060.3 356.4 L1059.1 355.7 L1057.8 355.0 L1056.6 354.2 L1055.4 353.5 L1054.2 352.7 L1053.0 351.9 L1051.7 351.1 L1050.6 350.3 L1049.4 349.4 L1048.2 348.5 L1047.1 347.5 L1046.0 346.5 L1045.0 345.4 L1044.0 344.3 L1043.1 343.1 L1042.2 341.8 L1041.5 340.5 L1040.8 339.2 L1040.2 337.8 L1039.7 336.4 L1039.3 334.9 L1039.0 333.5 L1038.7 332.0 L1038.6 330.5 L1038.6 329.0 L1038.6 327.5 L1038.7 326.0 L1038.9 324.6 L1039.1 323.1 L1039.3 321.7 L1039.6 320.3 L1039.9 318.9 L1040.2 317.6 L1040.5 316.2 L1040.8 314.9 L1041.1 313.5 L1041.4 312.2 L1041.7 310.9 L1041.9 309.5 L1042.2 308.2 L1042.4 306.8 L1042.7 305.4 L1043.0 304.0 L1043.3 302.6 L1043.6 301.2 L1044.0 299.8 L1044.4 298.4 L1044.8 296.9 L1045.4 295.5 L1046.0 294.1 L1046.7 292.8 L1047.5 291.4 L1048.3 290.2 L1049.2 289.0 L1050.3 287.8 L1051.3 286.7 L1052.5 285.8 L1053.8 284.9 L1055.0 284.0 L1056.4 283.3 L1057.8 282.7 L1059.2 282.1 L1060.7 281.7 L1062.1 281.3 L1063.6 281.0 L1065.1 280.7 L1066.6 280.5 L1068.1 280.4 L1069.5 280.3 L1071.0 280.2 L1072.4 280.1 L1073.8 280.1 L1075.3 280.1 L1076.7 280.0 L1078.1 280.0 L1079.5 280.0 L1080.9 280.0 L1082.3 280.0 L1083.7 280.0 L1085.2 280.1 L1086.6 280.1 L1088.0 280.2 L1089.5 280.4 L1090.9 280.6 L1092.3 280.8 L1093.8 281.1 L1095.2 281.5 L1096.6 282.0 L1097.9 282.5 L1099.3 283.1 L1100.6 283.8 L1101.8 284.6 L1103.0 285.4 L1104.2 286.3 L1105.3 287.3 L1106.3 288.4 L1107.3 289.4 L1108.2 290.6 L1109.1 291.7 L1109.9 292.9 L1110.7 294.1 L1111.4 295.4 L1112.1 296.6 L1112.8 297.8 L1113.5 299.1 L1114.1 300.3 L1114.7 301.6 L1115.4 302.8 L1116.0 304.0 L1116.6 305.3 L1117.3 306.6 L1117.9 307.8 L1118.5 309.1 L1119.2 310.4 L1119.8 311.7 L1120.3 313.1 L1120.9 314.5 L1121.4 315.9 L1121.9 317.3 L1122.3 318.8Z" fill="#dfe2ea" filter="url(#bl)" opacity="0.95"/>
<path d="M1116.3 321.5 L1116.6 322.8 L1116.7 324.1 L1116.4 325.4 L1115.9 326.7 L1115.1 327.9 L1114.3 329.0 L1113.5 330.1 L1112.9 331.2 L1112.4 332.4 L1112.2 333.6 L1112.0 334.8 L1111.8 336.1 L1111.4 337.3 L1110.9 338.4 L1110.1 339.5 L1109.2 340.3 L1108.1 341.1 L1107.1 341.9 L1106.2 342.7 L1105.4 343.6 L1104.8 344.7 L1104.3 346.0 L1103.9 347.3 L1103.4 348.6 L1102.8 349.8 L1102.0 350.9 L1101.0 351.7 L1099.8 352.3 L1098.5 352.7 L1097.2 353.1 L1096.0 353.4 L1094.8 353.8 L1093.7 354.4 L1092.6 355.1 L1091.5 355.9 L1090.4 356.6 L1089.2 357.2 L1088.0 357.4 L1086.6 357.4 L1085.3 357.2 L1084.0 356.8 L1082.7 356.3 L1081.4 356.0 L1080.2 355.8 L1079.0 355.8 L1077.8 356.1 L1076.6 356.5 L1075.3 356.9 L1074.0 357.2 L1072.7 357.2 L1071.5 357.0 L1070.3 356.6 L1069.1 356.0 L1068.0 355.4 L1066.9 354.8 L1065.7 354.4 L1064.5 354.2 L1063.1 354.1 L1061.7 354.0 L1060.4 353.8 L1059.0 353.4 L1057.9 352.8 L1056.9 351.9 L1056.1 350.8 L1055.4 349.6 L1054.9 348.3 L1054.3 347.1 L1053.6 346.0 L1052.9 345.0 L1052.0 344.2 L1051.0 343.4 L1050.0 342.6 L1049.1 341.7 L1048.4 340.6 L1047.9 339.5 L1047.6 338.2 L1047.4 336.9 L1047.3 335.6 L1047.0 334.4 L1046.6 333.3 L1046.0 332.2 L1045.2 331.2 L1044.2 330.2 L1043.3 329.1 L1042.6 327.9 L1042.1 326.7 L1041.9 325.4 L1041.9 324.1 L1042.2 322.8 L1042.6 321.5 L1042.9 320.2 L1043.1 319.0 L1043.1 317.7 L1043.1 316.4 L1042.9 315.1 L1042.9 313.8 L1043.0 312.5 L1043.4 311.3 L1044.0 310.1 L1044.9 309.1 L1046.0 308.2 L1047.0 307.3 L1048.0 306.4 L1048.7 305.4 L1049.3 304.3 L1049.6 303.1 L1049.9 301.9 L1050.2 300.6 L1050.6 299.3 L1051.2 298.2 L1052.0 297.2 L1053.0 296.4 L1054.1 295.7 L1055.2 295.0 L1056.2 294.3 L1057.1 293.5 L1058.0 292.6 L1058.7 291.5 L1059.5 290.3 L1060.4 289.2 L1061.3 288.2 L1062.4 287.5 L1063.7 287.1 L1065.1 287.0 L1066.5 287.0 L1067.9 287.2 L1069.2 287.3 L1070.5 287.3 L1071.7 287.1 L1072.9 286.7 L1074.0 286.3 L1075.3 285.8 L1076.5 285.5 L1077.7 285.4 L1079.0 285.6 L1080.2 286.0 L1081.5 286.5 L1082.6 287.0 L1083.8 287.4 L1085.0 287.6 L1086.2 287.5 L1087.5 287.3 L1088.9 287.1 L1090.3 286.8 L1091.7 286.7 L1093.0 286.9 L1094.2 287.4 L1095.3 288.1 L1096.3 289.0 L1097.2 289.9 L1098.1 290.9 L1099.1 291.7 L1100.2 292.3 L1101.3 292.9 L1102.5 293.4 L1103.7 294.1 L1104.8 294.8 L1105.7 295.8 L1106.3 296.9 L1106.8 298.2 L1107.1 299.6 L1107.3 300.9 L1107.6 302.2 L1108.1 303.3 L1108.7 304.3 L1109.6 305.2 L1110.5 306.1 L1111.5 307.0 L1112.4 308.0 L1113.1 309.1 L1113.5 310.3 L1113.7 311.5 L1113.8 312.8 L1113.8 314.1 L1113.9 315.3 L1114.2 316.6 L1114.6 317.8 L1115.1 319.0 L1115.8 320.2Z" fill="url(#tg)" filter="url(#bs)"/>
<circle cx="1080.9" cy="346.4" r="4.6" fill="#f1beb4" opacity="0.28"/>
<circle cx="1058.4" cy="305.8" r="3.7" fill="#f1beb4" opacity="0.28"/>
<circle cx="1107.1" cy="323.8" r="4.3" fill="#f1beb4" opacity="0.28"/>
<circle cx="1081.9" cy="351.3" r="4.9" fill="#f1beb4" opacity="0.28"/>
<circle cx="1091.5" cy="300.7" r="5.4" fill="#f1beb4" opacity="0.28"/>
<circle cx="1094.2" cy="342.6" r="6.1" fill="#f1beb4" opacity="0.28"/>
<circle cx="1052.1" cy="317.6" r="5.5" fill="#f1beb4" opacity="0.28"/>
<circle cx="1104.2" cy="332.2" r="5.3" fill="#f1beb4" opacity="0.28"/>
<circle cx="1072.9" cy="339.8" r="6.1" fill="#f1beb4" opacity="0.28"/>
<circle cx="1052.5" cy="326.1" r="6.1" fill="#f1beb4" opacity="0.28"/>
<circle cx="1072.5" cy="293.1" r="4.7" fill="#f1beb4" opacity="0.28"/>
<circle cx="1086.5" cy="298.8" r="6.3" fill="#f1beb4" opacity="0.28"/>
<circle cx="1093.5" cy="307.7" r="3.9" fill="#f1beb4" opacity="0.28"/>
<circle cx="1085.1" cy="350.5" r="4.8" fill="#f1beb4" opacity="0.28"/>
<circle cx="1063.4" cy="305.6" r="5.0" fill="#f1beb4" opacity="0.28"/>
<circle cx="1061.8" cy="336.5" r="5.3" fill="#f1beb4" opacity="0.28"/>
<circle cx="1054.0" cy="306.9" r="5.5" fill="#f1beb4" opacity="0.28"/>
<circle cx="1104.6" cy="309.2" r="6.5" fill="#f1beb4" opacity="0.28"/>
<circle cx="1069.1" cy="303.2" r="6.1" fill="#f1beb4" opacity="0.28"/>
<circle cx="1107.2" cy="315.1" r="5.2" fill="#f1beb4" opacity="0.28"/>
<circle cx="1074.2" cy="300.7" r="6.0" fill="#f1beb4" opacity="0.28"/>
<circle cx="1059.2" cy="311.6" r="3.7" fill="#f1beb4" opacity="0.28"/>
<path d="M1096.4 320.8 L1096.4 321.4 L1096.4 321.9 L1096.4 322.5 L1096.3 323.0 L1096.2 323.6 L1096.0 324.1 L1095.8 324.6 L1095.5 325.1 L1095.2 325.6 L1094.9 326.0 L1094.6 326.5 L1094.2 326.9 L1093.8 327.3 L1093.4 327.6 L1093.0 328.0 L1092.6 328.3 L1092.1 328.7 L1091.7 329.0 L1091.4 329.3 L1091.0 329.6 L1090.6 329.9 L1090.2 330.2 L1089.9 330.5 L1089.5 330.8 L1089.2 331.2 L1088.9 331.5 L1088.5 331.9 L1088.2 332.2 L1087.8 332.6 L1087.5 332.9 L1087.1 333.3 L1086.7 333.6 L1086.3 333.9 L1085.9 334.2 L1085.5 334.5 L1085.0 334.8 L1084.6 335.0 L1084.1 335.2 L1083.6 335.4 L1083.1 335.5 L1082.6 335.6 L1082.1 335.7 L1081.5 335.7 L1081.0 335.7 L1080.5 335.7 L1080.0 335.6 L1079.5 335.5 L1079.0 335.4 L1078.5 335.2 L1078.0 335.1 L1077.5 334.9 L1077.0 334.8 L1076.5 334.6 L1076.1 334.4 L1075.6 334.2 L1075.1 334.0 L1074.7 333.9 L1074.2 333.7 L1073.7 333.5 L1073.3 333.3 L1072.8 333.1 L1072.3 333.0 L1071.8 332.7 L1071.3 332.5 L1070.9 332.3 L1070.4 332.0 L1069.9 331.8 L1069.5 331.5 L1069.0 331.1 L1068.6 330.8 L1068.2 330.4 L1067.9 330.0 L1067.6 329.5 L1067.3 329.1 L1067.0 328.6 L1066.8 328.1 L1066.7 327.6 L1066.5 327.0 L1066.5 326.5 L1066.4 325.9 L1066.4 325.4 L1066.4 324.8 L1066.5 324.3 L1066.5 323.8 L1066.6 323.2 L1066.7 322.7 L1066.8 322.2 L1066.9 321.7 L1067.1 321.3 L1067.2 320.8 L1067.2 320.3 L1067.3 319.9 L1067.4 319.4 L1067.4 319.0 L1067.4 318.5 L1067.5 318.0 L1067.5 317.6 L1067.5 317.1 L1067.5 316.6 L1067.5 316.1 L1067.5 315.5 L1067.5 315.0 L1067.5 314.5 L1067.6 313.9 L1067.7 313.4 L1067.8 312.9 L1067.9 312.3 L1068.1 311.8 L1068.3 311.3 L1068.6 310.8 L1068.9 310.4 L1069.2 309.9 L1069.6 309.5 L1070.0 309.1 L1070.4 308.8 L1070.9 308.5 L1071.4 308.2 L1071.9 308.0 L1072.4 307.8 L1072.9 307.6 L1073.4 307.5 L1073.9 307.4 L1074.5 307.2 L1075.0 307.2 L1075.5 307.1 L1076.0 307.0 L1076.5 307.0 L1077.0 306.9 L1077.5 306.8 L1078.0 306.8 L1078.5 306.7 L1079.0 306.7 L1079.5 306.6 L1080.0 306.5 L1080.5 306.5 L1081.0 306.4 L1081.5 306.4 L1082.0 306.3 L1082.5 306.3 L1083.1 306.3 L1083.6 306.4 L1084.1 306.4 L1084.6 306.5 L1085.1 306.6 L1085.6 306.8 L1086.1 307.0 L1086.6 307.2 L1087.0 307.4 L1087.5 307.7 L1087.9 308.0 L1088.3 308.4 L1088.6 308.7 L1089.0 309.1 L1089.3 309.5 L1089.6 309.9 L1089.9 310.3 L1090.2 310.8 L1090.5 311.2 L1090.7 311.6 L1091.0 312.0 L1091.2 312.4 L1091.5 312.8 L1091.8 313.2 L1092.0 313.6 L1092.3 314.0 L1092.6 314.4 L1092.9 314.8 L1093.2 315.1 L1093.5 315.5 L1093.9 315.9 L1094.2 316.4 L1094.5 316.8 L1094.8 317.2 L1095.1 317.7 L1095.4 318.2 L1095.7 318.7 L1095.9 319.2 L1096.1 319.7 L1096.2 320.3Z" fill="url(#ng)" filter="url(#bs)"/>
</g>
<text x="944.9" y="221.5" font-size="30.9" font-family="Liberation Serif" fill="#231f20" textLength="151" lengthAdjust="spacingAndGlyphs">0.5–6 mg kg</text><text x="1095.6" y="206.3" font-size="19.5" font-family="Liberation Serif" fill="#231f20" stroke="#231f20" stroke-width="0.3" textLength="19.5" lengthAdjust="spacingAndGlyphs">−1</text>
</svg>
</body></html>
